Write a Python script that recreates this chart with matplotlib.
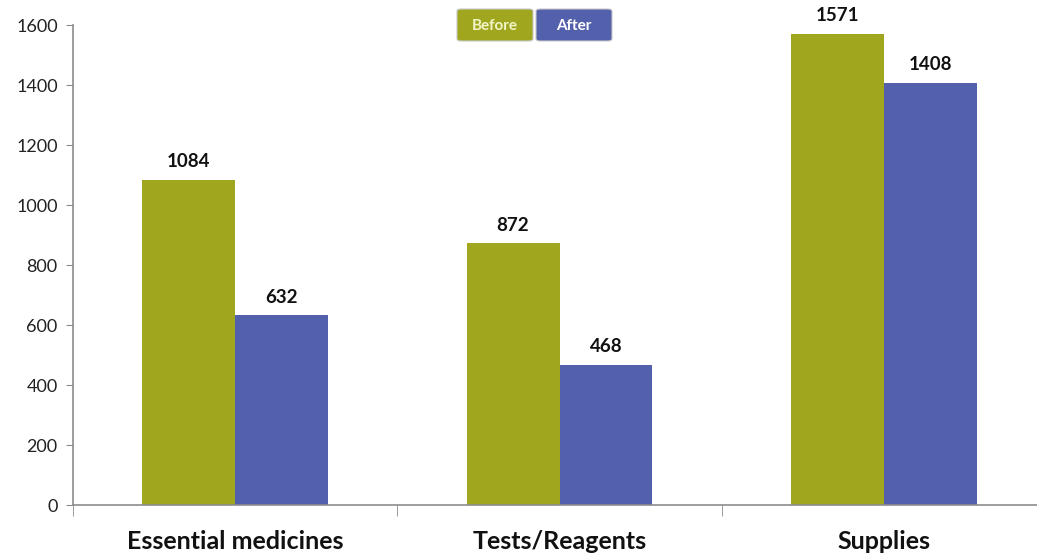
import numpy as np
import matplotlib
matplotlib.use("Agg")
import matplotlib.pyplot as plt
from matplotlib.patches import FancyBboxPatch

categories = ["Essential medicines", "Tests/Reagents", "Supplies"]
before = [1084, 872, 1571]
after = [632, 468, 1408]
series_names = ["Before", "After"]
yticks = [0, 200, 400, 600, 800, 1000, 1200, 1400, 1600]

olive = "#A0A71E"
blue = "#5360AB"
axis_gray = "#8C8C8C"

plt.rcParams["font.family"] = ["Lato", "DejaVu Sans"]

W, H = 1037, 554
fig = plt.figure(figsize=(W / 100, H / 100), dpi=100)
# axes spans slightly past the right edge of the figure
ax = fig.add_axes([73 / W, 49 / H, 973 / W, 480 / H])

x = np.arange(len(categories))
width = 0.2865
b1 = ax.bar(x - width / 2, before, width, color=olive, zorder=2)
b2 = ax.bar(x + width / 2, after, width, color=blue, zorder=2)

for bars, vals in ((b1, before), (b2, after)):
    for rect, v in zip(bars, vals):
        ax.annotate(str(v), (rect.get_x() + rect.get_width() / 2, v),
                    xytext=(0, 7), textcoords="offset points",
                    ha="center", va="bottom", fontsize=13.5, fontweight="bold",
                    color="#111111")

ax.set_xlim(-0.5, len(categories) - 0.5)
ax.set_ylim(0, 1600)
ax.set_yticks(yticks)
ax.set_yticklabels([str(t) for t in yticks], fontsize=13, color="#222222")

# category labels centred, tick marks on the boundaries
ax.set_xticks(x)
ax.set_xticklabels(categories, fontsize=18, fontweight="bold", color="#111111")
ax.tick_params(axis="x", length=0, pad=18)
ax.set_xticks(np.arange(len(categories) + 1) - 0.5, minor=True)
ax.tick_params(axis="x", which="minor", length=8, color=axis_gray, direction="out")
ax.tick_params(axis="y", length=5, color=axis_gray, direction="out", pad=6)

for s in ("top", "right"):
    ax.spines[s].set_visible(False)
for s in ("left", "bottom"):
    ax.spines[s].set_color(axis_gray)
    ax.spines[s].set_linewidth(1.2)

# legend as two coloured boxes
for label, col, x0, tcol in ((series_names[0], olive, 457, "#F2F5C8"),
                             (series_names[1], blue, 536, "#FFFFFF")):
    box = FancyBboxPatch((x0 / W, 1 - 41 / H), 76 / W, 32 / H,
                         boxstyle="round,pad=0,rounding_size=0.004",
                         transform=fig.transFigure, fc=col, ec="#C8C8C8",
                         lw=0.8)
    fig.patches.append(box)
    fig.text((x0 + 38) / W, 1 - 26 / H, label, ha="center", va="center",
             fontsize=11, fontweight="bold", color=tcol)

fig.savefig("out.png", dpi=100)
